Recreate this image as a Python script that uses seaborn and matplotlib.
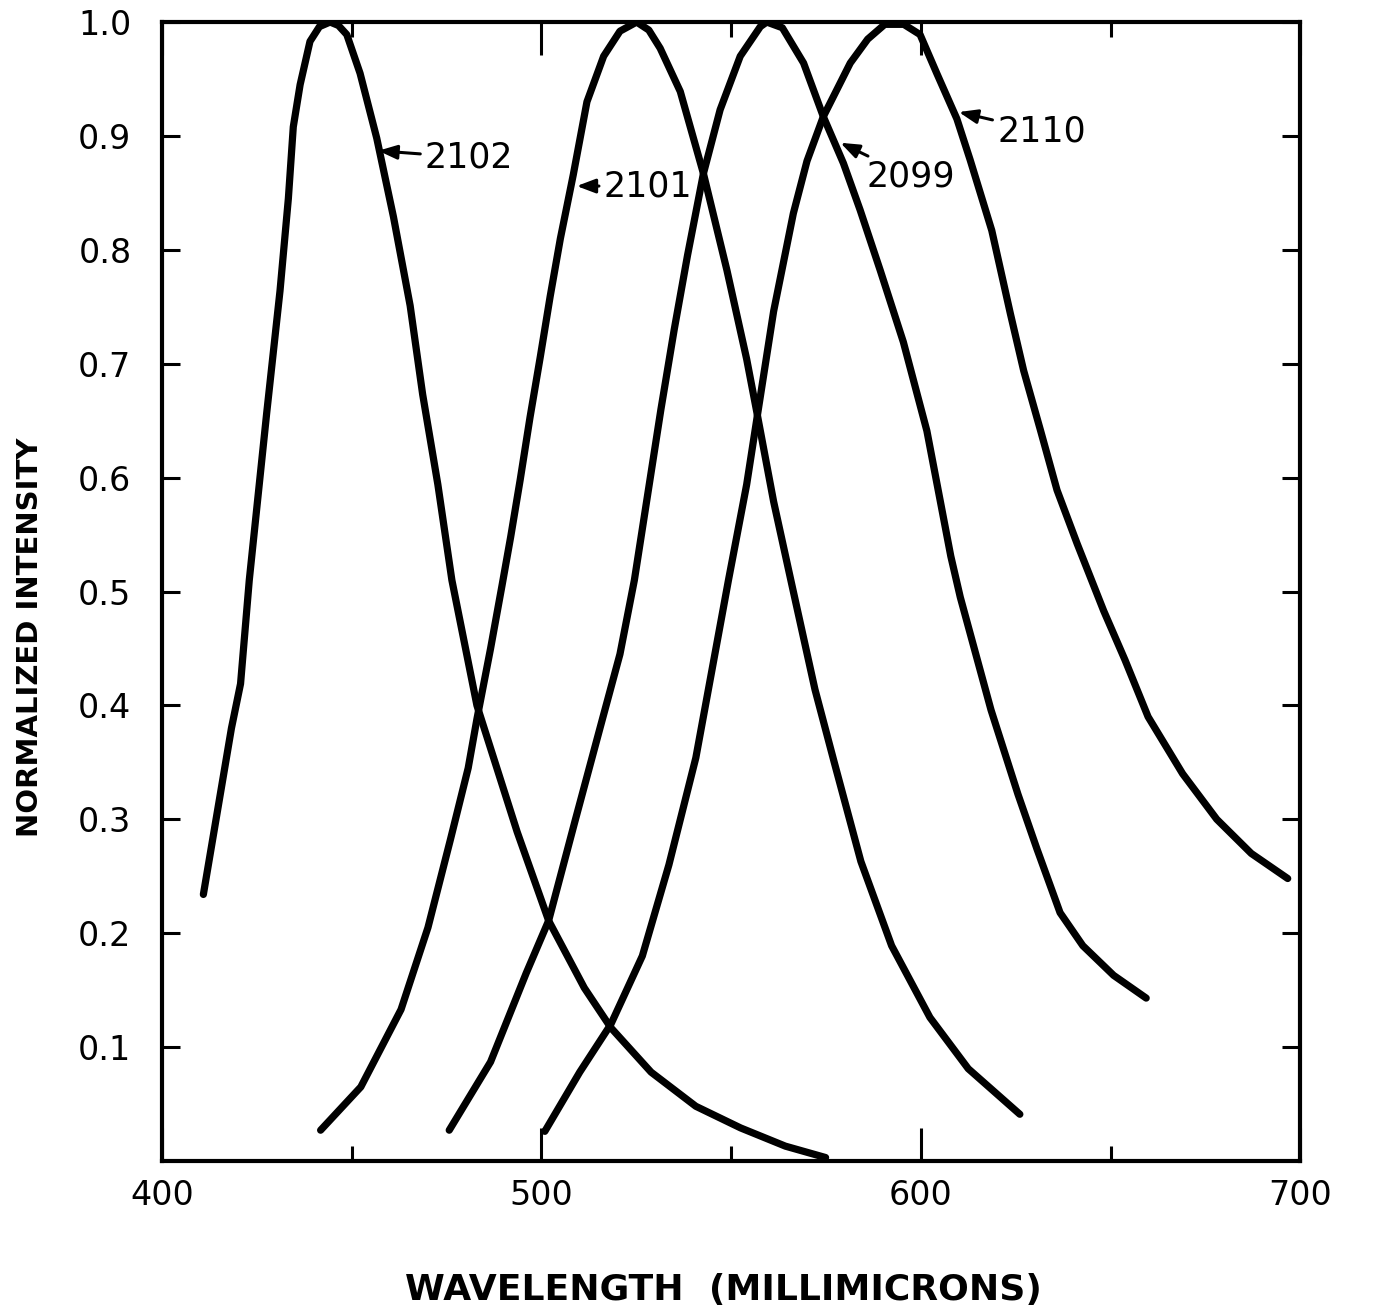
import numpy as np
import pandas as pd
import matplotlib
matplotlib.use("Agg")
import matplotlib.pyplot as plt
import seaborn as sns

# values (wavelength in millimicrons, normalized intensity)
x_2102 = [410.9, 418.3, 420.7, 423.0, 427.6, 431.1, 433.3, 434.6, 436.4, 439.0, 441.5, 444.3,
          446.5, 448.7, 452.2, 456.6, 461.0, 465.4, 468.7, 472.7, 476.4, 483.0, 493.6, 501.9,
          511.3, 518.3, 528.9, 540.7, 552.5, 564.3, 574.9]
y_2102 = [0.234, 0.380, 0.419, 0.510, 0.657, 0.764, 0.845, 0.908, 0.945, 0.983, 0.996, 1.0,
          0.997, 0.989, 0.955, 0.898, 0.829, 0.751, 0.673, 0.594, 0.510, 0.400, 0.289, 0.211,
          0.152, 0.117, 0.078, 0.048, 0.029, 0.013, 0.003]

x_2101 = [441.8, 452.4, 463.0, 470.1, 476.0, 480.7, 483.0, 486.6, 489.6, 491.9, 494.4, 497.0,
          499.7, 502.3, 505.0, 508.4, 512.0, 516.4, 520.7, 525.1, 528.3, 531.3, 536.6, 542.7,
          548.9, 554.1, 556.8, 561.2, 566.0, 572.1, 577.1, 584.2, 592.3, 602.4, 612.5, 626.1]
y_2101 = [0.027, 0.065, 0.133, 0.205, 0.282, 0.345, 0.388, 0.450, 0.505, 0.548, 0.598, 0.653,
          0.706, 0.759, 0.810, 0.866, 0.930, 0.970, 0.992, 1.0, 0.993, 0.977, 0.939, 0.867,
          0.782, 0.704, 0.657, 0.579, 0.506, 0.414, 0.351, 0.263, 0.189, 0.126, 0.081, 0.041]

x_2099 = [475.7, 486.6, 496.0, 501.9, 508.9, 516.0, 520.7, 524.5, 528.0, 531.5, 535.0, 538.5,
          542.7, 547.1, 552.4, 557.7, 559.4, 563.5, 569.1, 574.3, 579.6, 584.0, 589.3, 595.4,
          601.6, 607.9, 610.4, 618.5, 625.6, 630.6, 636.7, 642.7, 650.8, 659.4]
y_2099 = [0.027, 0.087, 0.165, 0.211, 0.299, 0.387, 0.445, 0.510, 0.585, 0.660, 0.730, 0.795,
          0.867, 0.923, 0.970, 0.996, 1.0, 0.995, 0.964, 0.917, 0.876, 0.835, 0.782, 0.719,
          0.641, 0.531, 0.495, 0.396, 0.322, 0.274, 0.218, 0.189, 0.163, 0.143]

x_2110 = [500.9, 510.1, 518.3, 526.6, 533.6, 540.7, 546.6, 549.3, 554.1, 556.8, 561.2, 566.4,
          570.0, 574.3, 581.4, 586.0, 590.5, 595.5, 599.8, 604.2, 609.5, 613.0, 618.7, 623.6,
          627.1, 631.5, 635.9, 641.2, 648.2, 653.8, 659.9, 669.0, 678.0, 687.1, 696.7]
y_2110 = [0.026, 0.078, 0.120, 0.180, 0.260, 0.354, 0.461, 0.510, 0.594, 0.652, 0.746, 0.832,
          0.878, 0.917, 0.964, 0.985, 0.998, 0.998, 0.989, 0.955, 0.915, 0.879, 0.817, 0.744,
          0.694, 0.642, 0.589, 0.542, 0.483, 0.440, 0.390, 0.340, 0.300, 0.270, 0.248]

# curve labels: name, arrow tip (on the curve), text start
label_names = ["2102", "2101", "2099", "2110"]
label_tip_x = [457.0, 509.3, 578.8, 610.0]
label_tip_y = [0.887, 0.856, 0.894, 0.921]
label_txt_x = [469.3, 516.4, 585.8, 620.1]
label_txt_y = [0.881, 0.856, 0.864, 0.904]

x_ticks = [400, 500, 600, 700]
x_minor = [450, 550, 650]
y_ticks = [0.1, 0.2, 0.3, 0.4, 0.5, 0.6, 0.7, 0.8, 0.9, 1.0]
y_labels = ["0.1", "0.2", "0.3", "0.4", "0.5", "0.6", "0.7", "0.8", "0.9", "1.0"]

sns.set_style("ticks")
plt.rcParams['font.family'] = ['DejaVu Sans']
for k in ['text.color', 'axes.labelcolor', 'xtick.color', 'ytick.color', 'axes.edgecolor']:
    plt.rcParams[k] = 'black'

fig = plt.figure(figsize=(13.73, 13.13), dpi=100)
ax = fig.add_axes([0.118, 0.1158, 0.829, 0.8674])

curves = [(x_2102, y_2102), (x_2101, y_2101), (x_2099, y_2099), (x_2110, y_2110)]
for xs, ys in curves:
    df = pd.DataFrame({'wl': xs, 'val': ys})
    sns.lineplot(data=df, x='wl', y='val', color='black', linewidth=5.2,
                 solid_capstyle='round', solid_joinstyle='round', ax=ax)

for name, tx, ty, lx, ly in zip(label_names, label_tip_x, label_tip_y, label_txt_x, label_txt_y):
    ax.annotate(name, xy=(tx, ty), xytext=(lx, ly), fontsize=25, ha='left', va='center',
                arrowprops=dict(arrowstyle='-|>,head_length=0.45,head_width=0.17',
                                color='black', lw=2.2, shrinkA=1, shrinkB=0))

ax.set_xlim(400, 700)
ax.set_ylim(0, 1.0)
ax.set_xticks(x_ticks)
ax.set_xticks(x_minor, minor=True)
ax.set_yticks(y_ticks)
ax.set_yticklabels(y_labels)

ax.tick_params(axis='both', which='major', direction='in', top=True, right=True,
               width=2.2, labelsize=24)
ax.tick_params(axis='x', which='major', length=24, pad=13)
ax.tick_params(axis='y', which='major', length=13, pad=22)
ax.tick_params(axis='x', which='minor', direction='in', top=True, length=11, width=2.2)

for sp in ax.spines.values():
    sp.set_linewidth(3)

ax.set_xlabel('WAVELENGTH  (MILLIMICRONS)', fontsize=26, fontweight='bold')
ax.set_ylabel('NORMALIZED INTENSITY', fontsize=21, fontweight='bold')
ax.xaxis.set_label_coords(0.493, -0.098)
ax.yaxis.set_label_coords(-0.104, 0.46)

fig.savefig('out.png', dpi=100, facecolor='white')
